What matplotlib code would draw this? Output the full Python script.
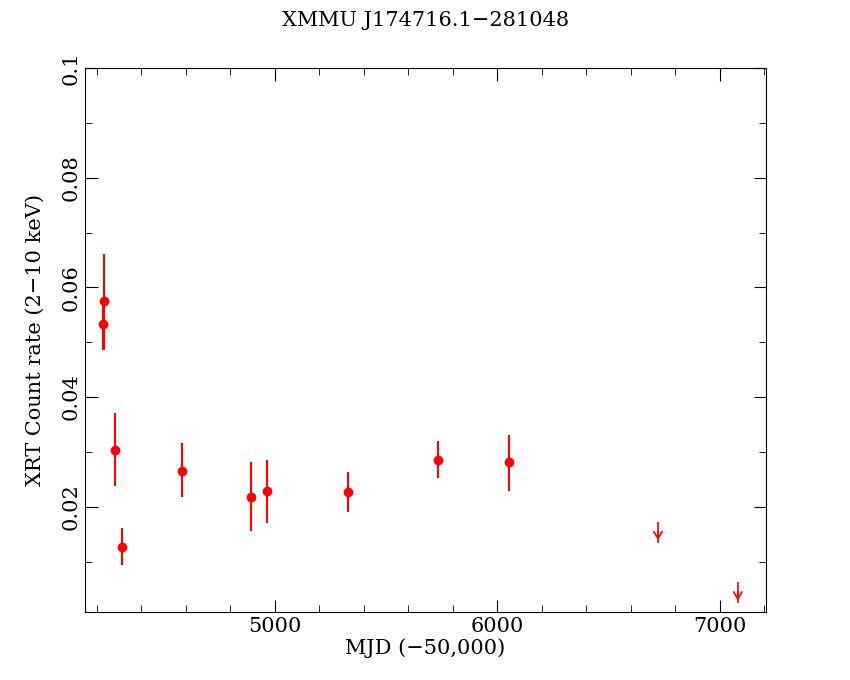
import matplotlib
matplotlib.use("Agg")
import matplotlib.pyplot as plt
from matplotlib.ticker import MultipleLocator

mjd = [4228, 4232, 4281, 4312, 4582, 4892, 4964, 5328, 5733, 6052]
rate = [0.0534, 0.0575, 0.0303, 0.0127, 0.0266, 0.0218, 0.0228, 0.0226, 0.0286, 0.0281]
err_lo = [0.0048, 0.0089, 0.0066, 0.0033, 0.0049, 0.0062, 0.0057, 0.0035, 0.0033, 0.0053]
err_hi = [0.0040, 0.0085, 0.0067, 0.0034, 0.0051, 0.0063, 0.0058, 0.0038, 0.0033, 0.0049]
ul_mjd = [6722, 7081]
ul_rate = [0.0172, 0.0062]
ul_len = [0.0038, 0.0038]
xticks = [5000, 6000, 7000]

plt.rcParams["font.family"] = "DejaVu Serif"
fig = plt.figure(figsize=(8.5, 6.8), dpi=100)
ax = fig.add_axes([0.1, 0.1, 0.801, 0.8])
ax.errorbar(mjd, rate, yerr=[err_lo, err_hi], fmt="o", color="red", ms=6, elinewidth=1.5, capsize=0)
ax.errorbar(ul_mjd, ul_rate, yerr=[ul_len, [0, 0]], fmt="none", ecolor="red", elinewidth=1.2, capsize=0)
for x, y, l in zip(ul_mjd, ul_rate, ul_len):
    ax.annotate("", xy=(x, y - l), xytext=(x, y - l + 0.0025),
                arrowprops=dict(arrowstyle="->,head_length=0.5,head_width=0.3", color="red", lw=1.2))
ax.set_xlim(4146, 7207)
ax.set_ylim(0.0008, 0.1)
ax.xaxis.set_minor_locator(MultipleLocator(200))
ax.yaxis.set_minor_locator(MultipleLocator(0.01))
ax.tick_params(which="both", direction="in", top=True, right=True, labelsize=15)
ax.tick_params(which="major", length=9)
ax.tick_params(which="minor", length=5)
ax.set_xticks(xticks)
ax.set_xticklabels([str(t) for t in xticks], fontfamily="DejaVu Serif")
ax.set_yticks([0.02, 0.04, 0.06, 0.08, 0.1])
ax.set_yticklabels(["0.02", "0.04", "0.06", "0.08", "0.1"], rotation=90, va="center")
ax.set_xlabel("MJD (\u221250,000)", fontsize=15, labelpad=2)
ax.set_ylabel("XRT Count rate (2\u221210 keV)", fontsize=15, labelpad=12)
ax.set_title("XMMU J174716.1\u2212281048", fontsize=15, pad=30)
fig.savefig("out.png", dpi=100)
